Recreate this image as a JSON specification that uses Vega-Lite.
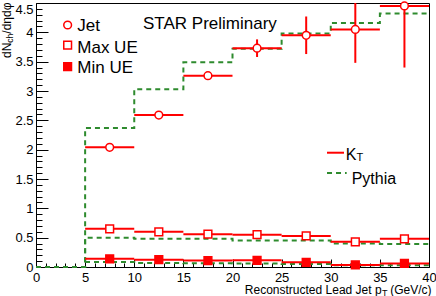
{
  "$schema": "https://vega.github.io/schema/vega-lite/v6.json",
  "width": 393,
  "height": 264,
  "autosize": {"type": "none"},
  "padding": {"left": 36, "top": 3, "right": 7, "bottom": 29},
  "background": "white",
  "config": {
    "view": {"stroke": "black", "strokeWidth": 1},
    "font": "Liberation Sans",
    "axis": {"domainColor": "black", "tickColor": "black", "labelColor": "black", "titleColor": "black", "grid": false, "labelFont": "Liberation Sans", "titleFont": "Liberation Sans", "titleFontWeight": "normal", "tickWidth": 1, "domainWidth": 1}
  },
  "datasets": {
    "pythia": [
      {"s": "Jet", "x": 0, "y": 0}, {"s": "Jet", "x": 5, "y": 2.37}, {"s": "Jet", "x": 10, "y": 3.03}, {"s": "Jet", "x": 15, "y": 3.49}, {"s": "Jet", "x": 20, "y": 3.72}, {"s": "Jet", "x": 25, "y": 3.98}, {"s": "Jet", "x": 30, "y": 4.16}, {"s": "Jet", "x": 35, "y": 4.32}, {"s": "Jet", "x": 40, "y": 4.32},
      {"s": "Max UE", "x": 0, "y": 0}, {"s": "Max UE", "x": 5, "y": 0.5}, {"s": "Max UE", "x": 10, "y": 0.48}, {"s": "Max UE", "x": 15, "y": 0.48}, {"s": "Max UE", "x": 20, "y": 0.45}, {"s": "Max UE", "x": 25, "y": 0.45}, {"s": "Max UE", "x": 30, "y": 0.4}, {"s": "Max UE", "x": 35, "y": 0.39}, {"s": "Max UE", "x": 40, "y": 0.39},
      {"s": "Min UE", "x": 0, "y": 0}, {"s": "Min UE", "x": 5, "y": 0.085}, {"s": "Min UE", "x": 10, "y": 0.07}, {"s": "Min UE", "x": 15, "y": 0.065}, {"s": "Min UE", "x": 20, "y": 0.06}, {"s": "Min UE", "x": 25, "y": 0.05}, {"s": "Min UE", "x": 30, "y": 0.03}, {"s": "Min UE", "x": 35, "y": 0.03}, {"s": "Min UE", "x": 40, "y": 0.03}
    ],
    "kt": [
      {"series": "Jet", "x0": 5, "x1": 10, "xc": 7.5, "y": 2.04, "lo": 2.01, "hi": 2.07},
      {"series": "Jet", "x0": 10, "x1": 15, "xc": 12.5, "y": 2.59, "lo": 2.56, "hi": 2.62},
      {"series": "Jet", "x0": 15, "x1": 20, "xc": 17.5, "y": 3.26, "lo": 3.22, "hi": 3.3},
      {"series": "Jet", "x0": 20, "x1": 25, "xc": 22.5, "y": 3.73, "lo": 3.58, "hi": 3.88},
      {"series": "Jet", "x0": 25, "x1": 30, "xc": 27.5, "y": 3.95, "lo": 3.63, "hi": 4.27},
      {"series": "Jet", "x0": 30, "x1": 35, "xc": 32.5, "y": 4.05, "lo": 3.48, "hi": 4.5},
      {"series": "Jet", "x0": 35, "x1": 40, "xc": 37.5, "y": 4.45, "lo": 3.4, "hi": 4.5},
      {"series": "Max UE", "x0": 5, "x1": 10, "xc": 7.5, "y": 0.65, "lo": 0.63, "hi": 0.67},
      {"series": "Max UE", "x0": 10, "x1": 15, "xc": 12.5, "y": 0.6, "lo": 0.58, "hi": 0.62},
      {"series": "Max UE", "x0": 15, "x1": 20, "xc": 17.5, "y": 0.56, "lo": 0.54, "hi": 0.58},
      {"series": "Max UE", "x0": 20, "x1": 25, "xc": 22.5, "y": 0.55, "lo": 0.53, "hi": 0.57},
      {"series": "Max UE", "x0": 25, "x1": 30, "xc": 27.5, "y": 0.53, "lo": 0.51, "hi": 0.55},
      {"series": "Max UE", "x0": 30, "x1": 35, "xc": 32.5, "y": 0.43, "lo": 0.41, "hi": 0.45},
      {"series": "Max UE", "x0": 35, "x1": 40, "xc": 37.5, "y": 0.48, "lo": 0.42, "hi": 0.54},
      {"series": "Min UE", "x0": 5, "x1": 10, "xc": 7.5, "y": 0.14, "lo": 0.13, "hi": 0.15},
      {"series": "Min UE", "x0": 10, "x1": 15, "xc": 12.5, "y": 0.125, "lo": 0.115, "hi": 0.135},
      {"series": "Min UE", "x0": 15, "x1": 20, "xc": 17.5, "y": 0.11, "lo": 0.1, "hi": 0.12},
      {"series": "Min UE", "x0": 20, "x1": 25, "xc": 22.5, "y": 0.115, "lo": 0.105, "hi": 0.125},
      {"series": "Min UE", "x0": 25, "x1": 30, "xc": 27.5, "y": 0.08, "lo": 0.07, "hi": 0.09},
      {"series": "Min UE", "x0": 30, "x1": 35, "xc": 32.5, "y": 0.035, "lo": 0.025, "hi": 0.045},
      {"series": "Min UE", "x0": 35, "x1": 40, "xc": 37.5, "y": 0.06, "lo": 0.05, "hi": 0.07}
    ],
    "one": [{}]
  },
  "resolve": {"axis": {"x": "independent", "y": "independent"}},
  "layer": [
    {
      "data": {"name": "pythia"},
      "mark": {"type": "line", "interpolate": "step-after", "color": "#2e8b2e", "strokeWidth": 2, "strokeDash": [5, 4]},
      "encoding": {
        "x": {"field": "x", "type": "quantitative", "scale": {"domain": [0, 40], "nice": false, "zero": false},
          "axis": {"orient": "bottom", "values": [0, 5, 10, 15, 20, 25, 30, 35, 40], "tickSize": -8, "labelFontSize": 13, "labelPadding": 12, "labelFlush": false, "format": "~g",
            "title": "Reconstructed Lead Jet p", "titleFontSize": 12, "titleX": 345.1, "titleY": 26.5, "titleAlign": "right", "titleBaseline": "alphabetic", "titleAngle": 0}},
        "y": {"field": "y", "type": "quantitative", "scale": {"domain": [0, 4.5], "nice": false, "zero": false},
          "axis": {"orient": "left", "values": [0, 0.5, 1, 1.5, 2, 2.5, 3, 3.5, 4, 4.5], "tickSize": -12, "labelFontSize": 13, "labelPadding": 15, "labelFlush": false, "format": ".2~g", "labelExpr": "datum.value == 4.5 ? '' : datum.label",
            "title": "/dηdφ", "titleFontSize": 12, "titleX": -26, "titleY": -1, "titleAlign": "right", "titleBaseline": "alphabetic", "titleAngle": -90}},
        "detail": {"field": "s"}
      }
    },
    {
      "data": {"name": "kt"},
      "mark": {"type": "rule", "color": "#ff0000", "strokeWidth": 2},
      "encoding": {
        "x": {"field": "x0", "type": "quantitative", "scale": {"domain": [0, 40], "nice": false, "zero": false},
          "axis": {"orient": "bottom", "values": [1, 2, 3, 4, 6, 7, 8, 9, 11, 12, 13, 14, 16, 17, 18, 19, 21, 22, 23, 24, 26, 27, 28, 29, 31, 32, 33, 34, 36, 37, 38, 39], "tickSize": -4, "labels": false, "domain": false,
            "title": "T", "titleFontSize": 9, "titleX": 345.5, "titleY": 28, "titleAlign": "left", "titleBaseline": "alphabetic", "titleAngle": 0}},
        "x2": {"field": "x1"},
        "y": {"field": "y", "type": "quantitative", "scale": {"domain": [0, 4.5], "nice": false, "zero": false},
          "axis": {"orient": "left", "values": [0.1, 0.2, 0.3, 0.4, 0.6, 0.7, 0.8, 0.9, 1.1, 1.2, 1.3, 1.4, 1.6, 1.7, 1.8, 1.9, 2.1, 2.2, 2.3, 2.4, 2.6, 2.7, 2.8, 2.9, 3.1, 3.2, 3.3, 3.4, 3.6, 3.7, 3.8, 3.9, 4.1, 4.2, 4.3, 4.4], "tickSize": -6, "labels": false, "domain": false,
            "title": "ch", "titleFontSize": 8.5, "titleX": -24, "titleY": 30.2, "titleAlign": "right", "titleBaseline": "alphabetic", "titleAngle": -90}}
      }
    },
    {
      "data": {"name": "kt"},
      "mark": {"type": "rule", "color": "#ff0000", "strokeWidth": 2, "clip": true},
      "encoding": {
        "x": {"field": "xc", "type": "quantitative", "scale": {"domain": [0, 40], "nice": false, "zero": false},
          "axis": {"orient": "bottom", "ticks": false, "labels": false, "domain": false,
            "title": "(GeV/c)", "titleFontSize": 12, "titleX": 395, "titleY": 26.5, "titleAlign": "right", "titleBaseline": "alphabetic", "titleAngle": 0}},
        "y": {"field": "lo", "type": "quantitative", "scale": {"domain": [0, 4.5], "nice": false, "zero": false},
          "axis": {"orient": "left", "values": [4.5], "ticks": false, "domain": false, "labelFontSize": 13, "labelPadding": 3, "labelBaseline": "top", "labelFlush": false, "format": ".2~g", "labelExpr": "'4.5'",
            "title": "dN", "titleFontSize": 12, "titleX": -26, "titleY": 39.2, "titleAlign": "right", "titleBaseline": "alphabetic", "titleAngle": -90}},
        "y2": {"field": "hi"}
      }
    },
    {
      "data": {"name": "kt"},
      "mark": {"type": "point", "filled": true, "stroke": "#ff0000", "strokeWidth": 1.5, "size": 60, "opacity": 1},
      "encoding": {
        "x": {"field": "xc", "type": "quantitative", "scale": {"domain": [0, 40], "nice": false, "zero": false}, "axis": null},
        "y": {"field": "y", "type": "quantitative", "scale": {"domain": [0, 4.5], "nice": false, "zero": false}, "axis": null},
        "shape": {"field": "series", "type": "nominal", "scale": {"domain": ["Jet", "Max UE", "Min UE"], "range": ["circle", "square", "square"]}, "legend": null},
        "fill": {"field": "series", "type": "nominal", "scale": {"domain": ["Jet", "Max UE", "Min UE"], "range": ["white", "white", "#ff0000"]}, "legend": null}
      }
    },
    {
      "data": {"name": "one"},
      "mark": {"type": "point", "shape": "circle", "filled": true, "fill": "white", "stroke": "#ff0000", "strokeWidth": 1.5, "size": 60, "opacity": 1},
      "encoding": {"x": {"datum": 3.22, "type": "quantitative", "scale": {"domain": [0, 40], "nice": false, "zero": false}, "axis": null}, "y": {"datum": 4.125, "type": "quantitative", "scale": {"domain": [0, 4.5], "nice": false, "zero": false}, "axis": null}}
    },
    {
      "data": {"name": "one"},
      "mark": {"type": "point", "shape": "square", "filled": true, "fill": "white", "stroke": "#ff0000", "strokeWidth": 1.5, "size": 60, "opacity": 1},
      "encoding": {"x": {"datum": 3.22, "type": "quantitative", "scale": {"domain": [0, 40], "nice": false, "zero": false}, "axis": null}, "y": {"datum": 3.784, "type": "quantitative", "scale": {"domain": [0, 4.5], "nice": false, "zero": false}, "axis": null}}
    },
    {
      "data": {"name": "one"},
      "mark": {"type": "point", "shape": "square", "filled": true, "fill": "#ff0000", "stroke": "#ff0000", "strokeWidth": 1.5, "size": 60, "opacity": 1},
      "encoding": {"x": {"datum": 3.22, "type": "quantitative", "scale": {"domain": [0, 40], "nice": false, "zero": false}, "axis": null}, "y": {"datum": 3.414, "type": "quantitative", "scale": {"domain": [0, 4.5], "nice": false, "zero": false}, "axis": null}}
    },
    {
      "data": {"name": "one"},
      "mark": {"type": "text", "text": "Jet", "align": "left", "baseline": "alphabetic", "fontSize": 17, "color": "black"},
      "encoding": {"x": {"datum": 4.2, "type": "quantitative", "scale": {"domain": [0, 40], "nice": false, "zero": false}, "axis": null}, "y": {"datum": 4.028, "type": "quantitative", "scale": {"domain": [0, 4.5], "nice": false, "zero": false}, "axis": null}}
    },
    {
      "data": {"name": "one"},
      "mark": {"type": "text", "text": "Max UE", "align": "left", "baseline": "alphabetic", "fontSize": 17, "color": "black"},
      "encoding": {"x": {"datum": 4.2, "type": "quantitative", "scale": {"domain": [0, 40], "nice": false, "zero": false}, "axis": null}, "y": {"datum": 3.653, "type": "quantitative", "scale": {"domain": [0, 4.5], "nice": false, "zero": false}, "axis": null}}
    },
    {
      "data": {"name": "one"},
      "mark": {"type": "text", "text": "Min UE", "align": "left", "baseline": "alphabetic", "fontSize": 17, "color": "black"},
      "encoding": {"x": {"datum": 4.2, "type": "quantitative", "scale": {"domain": [0, 40], "nice": false, "zero": false}, "axis": null}, "y": {"datum": 3.312, "type": "quantitative", "scale": {"domain": [0, 4.5], "nice": false, "zero": false}, "axis": null}}
    },
    {
      "data": {"name": "one"},
      "mark": {"type": "text", "text": "STAR Preliminary", "align": "left", "baseline": "alphabetic", "fontSize": 17, "color": "black"},
      "encoding": {"x": {"datum": 10.89, "type": "quantitative", "scale": {"domain": [0, 40], "nice": false, "zero": false}, "axis": null}, "y": {"datum": 4.051, "type": "quantitative", "scale": {"domain": [0, 4.5], "nice": false, "zero": false}, "axis": null}}
    },
    {
      "data": {"name": "one"},
      "mark": {"type": "rule", "color": "#ff0000", "strokeWidth": 2},
      "encoding": {"x": {"datum": 29.62, "type": "quantitative", "scale": {"domain": [0, 40], "nice": false, "zero": false}, "axis": null}, "x2": {"datum": 31.35}, "y": {"datum": 1.948, "type": "quantitative", "scale": {"domain": [0, 4.5], "nice": false, "zero": false}, "axis": null}}
    },
    {
      "data": {"name": "one"},
      "mark": {"type": "rule", "color": "#2e8b2e", "strokeWidth": 2, "strokeDash": [5, 4]},
      "encoding": {"x": {"datum": 29.62, "type": "quantitative", "scale": {"domain": [0, 40], "nice": false, "zero": false}, "axis": null}, "x2": {"datum": 31.62}, "y": {"datum": 1.602, "type": "quantitative", "scale": {"domain": [0, 4.5], "nice": false, "zero": false}, "axis": null}}
    },
    {
      "data": {"name": "one"},
      "mark": {"type": "text", "text": "K", "align": "left", "baseline": "alphabetic", "fontSize": 16, "color": "black"},
      "encoding": {"x": {"datum": 31.52, "type": "quantitative", "scale": {"domain": [0, 40], "nice": false, "zero": false}, "axis": null}, "y": {"datum": 1.824, "type": "quantitative", "scale": {"domain": [0, 4.5], "nice": false, "zero": false}, "axis": null}}
    },
    {
      "data": {"name": "one"},
      "mark": {"type": "text", "text": "T", "align": "left", "baseline": "alphabetic", "fontSize": 11, "color": "black"},
      "encoding": {"x": {"datum": 32.61, "type": "quantitative", "scale": {"domain": [0, 40], "nice": false, "zero": false}, "axis": null}, "y": {"datum": 1.807, "type": "quantitative", "scale": {"domain": [0, 4.5], "nice": false, "zero": false}, "axis": null}}
    },
    {
      "data": {"name": "one"},
      "mark": {"type": "text", "text": "Pythia", "align": "left", "baseline": "alphabetic", "fontSize": 16, "color": "black"},
      "encoding": {"x": {"datum": 32.13, "type": "quantitative", "scale": {"domain": [0, 40], "nice": false, "zero": false}, "axis": null}, "y": {"datum": 1.415, "type": "quantitative", "scale": {"domain": [0, 4.5], "nice": false, "zero": false}, "axis": null}}
    }
  ]
}
